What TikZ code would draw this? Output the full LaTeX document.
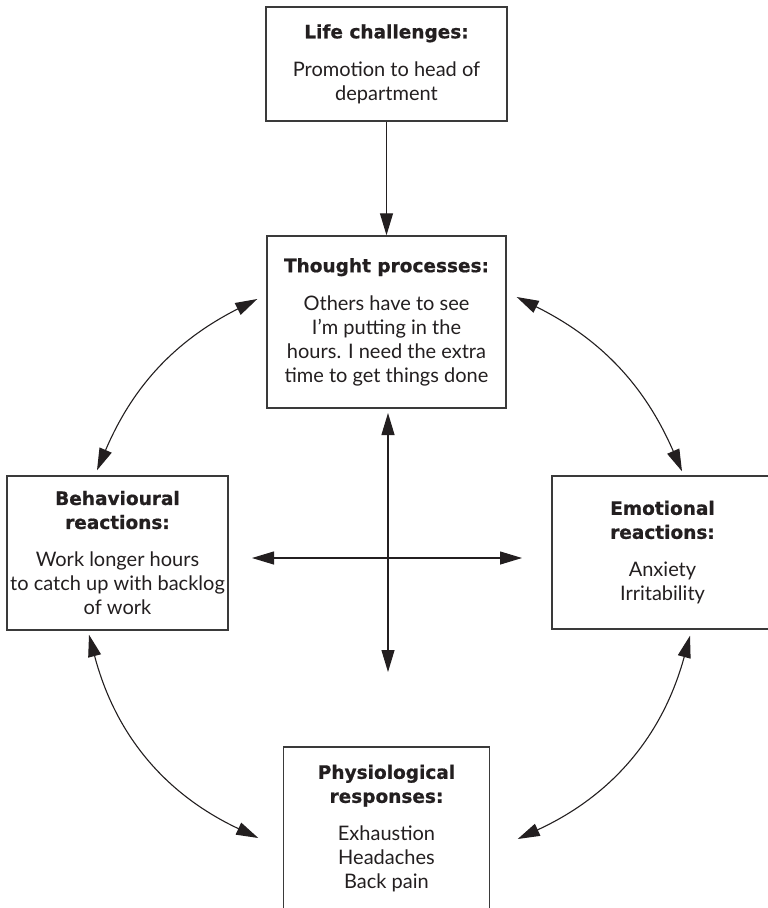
\documentclass[tikz,border=0pt]{standalone}
\usepackage{fontspec}
\setmainfont{Lato}
\newfontfamily\headfont[BoldFeatures={FakeBold=0.8}]{DejaVu Sans}
\usetikzlibrary{arrows.meta,calc}
\definecolor{ink}{HTML}{231F20}
\definecolor{frame}{HTML}{3A3A3A}
\tikzset{
  x=1pt, y=-1pt,
  box/.style={draw=frame, line width=1.4pt, align=center, text=ink,
    font=\fontsize{20}{24}\selectfont, inner sep=0pt},
  link/.style={draw=ink, line width=1.1pt,
    {Triangle[length=22pt,width=13pt]}-{Triangle[length=22pt,width=13pt]}},
  onearrow/.style={draw=ink, line width=1.1pt, -{Triangle[length=22pt,width=13pt]}}
}
\newcommand{\hd}[1]{{\headfont\bfseries\fontsize{18.5}{24}\selectfont #1}}
\begin{document}
\begin{tikzpicture}
\clip (0,0) rectangle (768,908);
\fill[white] (0,0) rectangle (768,908);

% boxes
\node[box, minimum width=241pt, minimum height=114pt] (life) at (386.5,64)
  {\hd{Life challenges:}\\[14pt]Promotion to head of\\department};
\node[box, minimum width=239pt, minimum height=172pt] (thought) at (386.5,322)
  {\hd{Thought processes:}\\[14pt]Others have to see\\I'm putting in the\\hours. I need the extra\\time to get things done};
\node[box, minimum width=221pt, minimum height=154pt] (behav) at (117.5,553)
  {\hd{Behavioural}\\\hd{reactions:}\\[14pt]Work longer hours\\to catch up with backlog\\of work};
\node[box, minimum width=221pt, minimum height=153pt] (emot) at (662.5,552.5)
  {\hd{Emotional}\\\hd{reactions:}\\[14pt]Anxiety\\Irritability};
\node[box, draw=none, minimum width=205pt] (phys) at (386.5,828.5)
  {\hd{Physiological}\\\hd{responses:}\\[14pt]Exhaustion\\Headaches\\Back pain};
% open frame of the bottom box, running off the lower edge
\draw[frame, line width=1.4pt] (phys.west |- 0,930) -- (phys.west |- 0,747)
  -- (phys.east |- 0,747) -- (phys.east |- 0,930);

% straight arrow from the life challenge to the thoughts
\draw[onearrow] (life) -- (thought);

% central cross
\coordinate (cl) at (252,558);
\coordinate (cr) at (522,558);
\coordinate (ct) at (388,413);
\coordinate (cb) at (388,672);
\draw[link] (cl) -- (cr);
\draw[link] (ct) -- (cb);

% curved two-way arrows round the cycle
\draw[link] ($(thought.west)+(-9,-23)$) to[bend right=20] ($(behav.north)+(-20.5,-5)$);
\draw[link] ($(thought.east)+(10,-25)$) to[bend left=20] ($(emot.north)+(19.5,-4)$);
\draw[link] ($(behav.south)+(-28.5,4)$) to[bend right=25] ($(phys.west)+(-25,9.5)$);
\draw[link] ($(emot.south)+(27.5,6)$) to[bend left=25] ($(phys.east)+(28,10.5)$);
\end{tikzpicture}
\end{document}
